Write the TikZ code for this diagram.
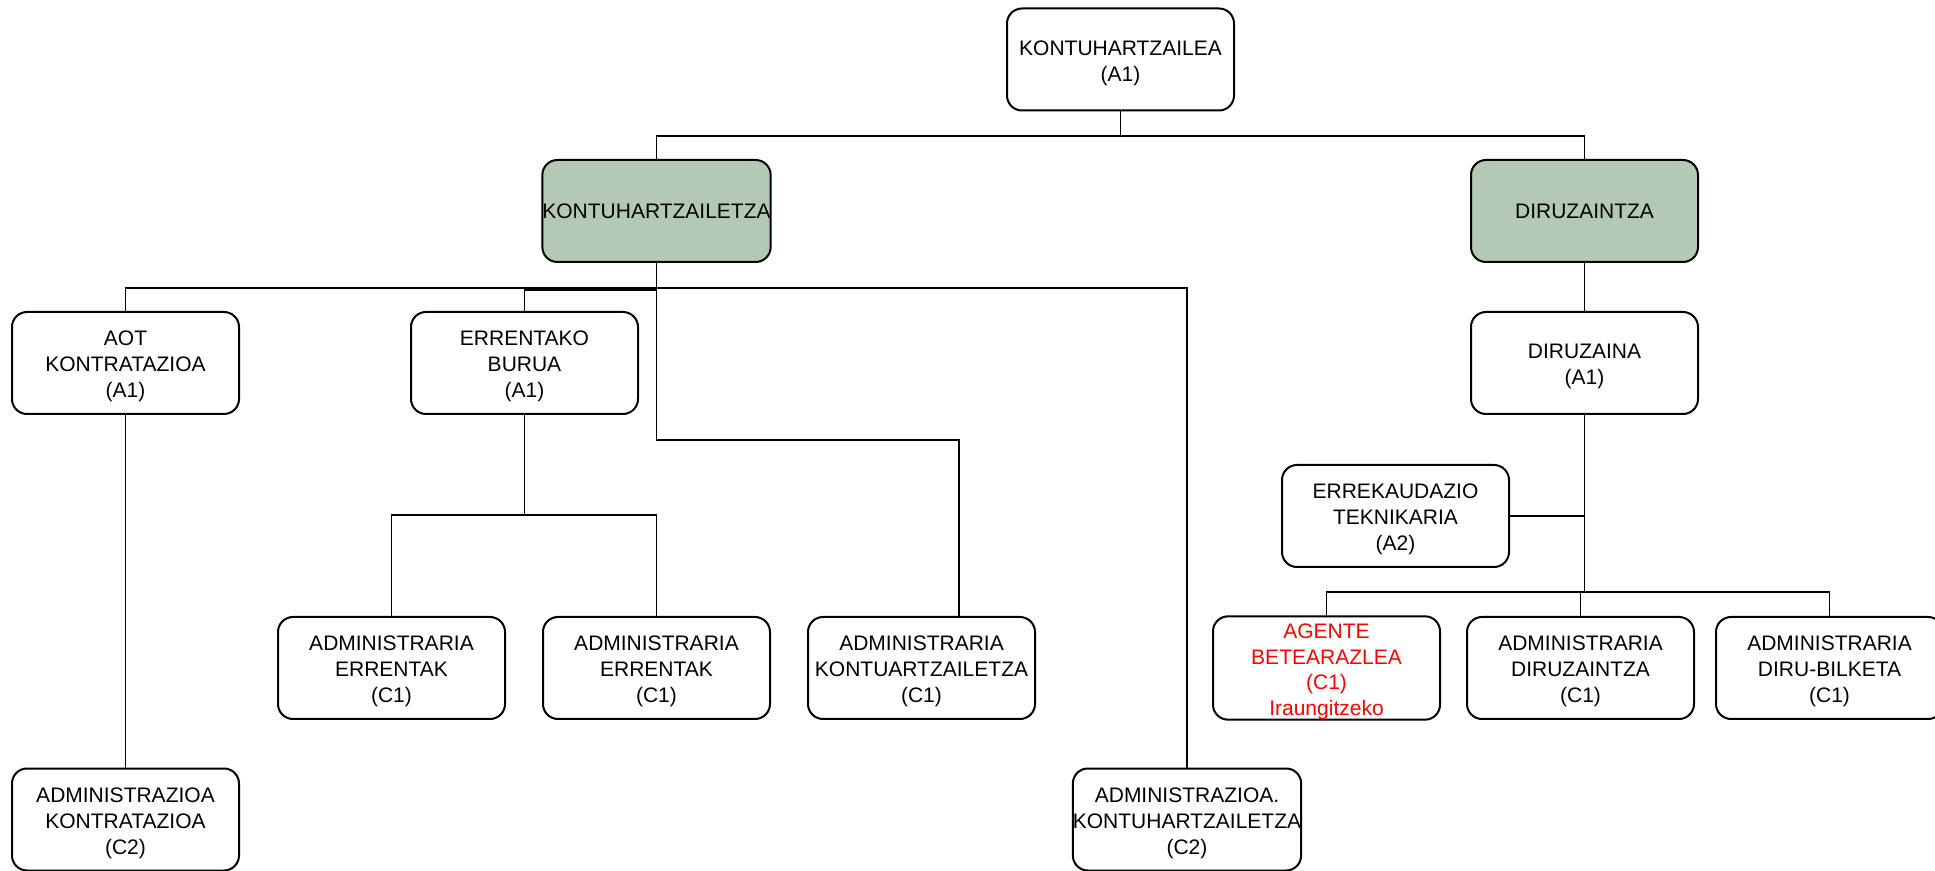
\documentclass[tikz,border=0pt]{standalone}
\usepackage{fontspec}
\setmainfont{Liberation Sans}
\definecolor{unitgreen}{RGB}{180,201,181}
\newcommand\topgap{\rule{0pt}{11.1pt}}
\begin{document}
\begin{tikzpicture}[x=0.5pt,y=-0.5pt,
  box/.style={draw=black,line width=1pt,rounded corners=7.5pt,fill=white,
    minimum width=113.5pt,minimum height=51pt,inner sep=0pt,align=center,
    font=\fontsize{10.5}{13}\selectfont},
  unit/.style={box,fill=unitgreen},
  conn/.style={line width=0.75pt}]
\useasboundingbox (0,0) rectangle (1935,871);
% nodes
\node[box] (top) at (1120.5,59.5) {\topgap KONTUHARTZAILEA\\(A1)};
\node[unit] (kz) at (656.5,211) {KONTUHARTZAILETZA};
\node[unit] (dz) at (1584.5,211) {DIRUZAINTZA};
\node[box] (aot) at (125.5,363) {\topgap AOT\\KONTRATAZIOA\\(A1)};
\node[box] (erb) at (524.5,363) {\topgap ERRENTAKO\\BURUA\\(A1)};
\node[box] (drz) at (1584.5,363) {\topgap DIRUZAINA\\(A1)};
\node[box] (erk) at (1395.5,516) {\topgap ERREKAUDAZIO\\TEKNIKARIA\\(A2)};
\node[box] (ae1) at (391.5,668) {\topgap ADMINISTRARIA\\ERRENTAK\\(C1)};
\node[box] (ae2) at (656.5,668) {\topgap ADMINISTRARIA\\ERRENTAK\\(C1)};
\node[box] (ak) at (921.5,668) {\topgap ADMINISTRARIA\\KONTUARTZAILETZA\\(C1)};
\node[box,text=red,font=\fontsize{10.5}{12.8}\selectfont] (ag) at (1326.5,668) {\topgap AGENTE\\BETEARAZLEA\\(C1)\\Iraungitzeko};
\node[box] (adz) at (1580.5,668) {\topgap ADMINISTRARIA\\DIRUZAINTZA\\(C1)};
\node[box] (adb) at (1829.5,668) {\topgap ADMINISTRARIA\\DIRU-BILKETA\\(C1)};
\node[box] (akon) at (125.5,819.5) {\topgap ADMINISTRAZIOA\\KONTRATAZIOA\\(C2)};
\node[box] (akz) at (1187,819.5) {\topgap ADMINISTRAZIOA.\\KONTUHARTZAILETZA\\(C2)};
% bus levels
\coordinate (b1) at (0,136);
\coordinate (b2) at (0,288);
\coordinate (b3) at (0,440);
\coordinate (b4) at (0,515);
\coordinate (b5) at (0,592);
\coordinate (akt) at (959,617);
% connectors
\draw[conn] (top.south) -- (top.south |- b1);
\draw[conn] (kz.north) |- (dz.north |- b1) -- (dz.north);
\draw[conn] (kz.south) -- (kz.south |- b3) -| (akt);
\draw[conn] (aot.north) |- (akz.north |- b2) -- (akz.north);
\draw[conn] (kz.south) -- ++(0,27) -| (erb.north);
\draw[conn] (aot.south) -- (akon.north);
\draw[conn] (erb.south) -- (erb.south |- b4);
\draw[conn] (ae1.north) |- (ae2.north |- b4) -- (ae2.north);
\draw[conn] (dz.south) -- (drz.north);
\draw[conn] (drz.south) -- (drz.south |- b5);
\draw[conn] (erk.east) -- (erk.east -| drz.south);
\draw[conn] (ag.north) |- (adb.north |- b5) -- (adb.north);
\draw[conn] (adz.north) -- (adz.north |- b5);
\end{tikzpicture}
\end{document}
